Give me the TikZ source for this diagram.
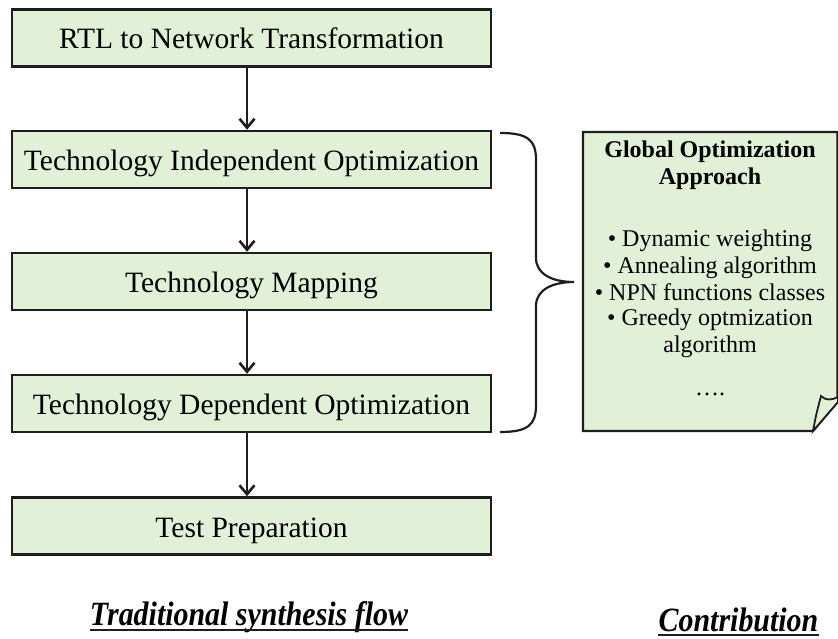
\documentclass[tikz,border=0pt]{standalone}
\usepackage{fontspec}
\usepackage{graphicx}
\setmainfont{Liberation Serif}
\usetikzlibrary{arrows.meta}
\definecolor{boxfill}{RGB}{226,240,216}
\definecolor{ink}{RGB}{30,30,30}
\begin{document}
\begin{tikzpicture}[x=1pt,y=-1pt,
  flowbox/.style={draw=ink, line width=2.4pt, fill=boxfill, minimum width=479pt,
    minimum height=57pt, inner sep=0pt, text height=22pt, text depth=0pt,
    font=\fontsize{29.5}{32}\selectfont},
  arr/.style={draw=ink, line width=2.6pt, -{Straight Barb[length=9pt,width=15pt]}},
  notetitle/.style={anchor=base, inner sep=0pt, font=\bfseries\fontsize{24}{27}\selectfont},
  notetext/.style={anchor=base, inner sep=0pt, font=\fontsize{24}{27}\selectfont},
  caption/.style={anchor=base, inner sep=0pt, font=\bfseries\itshape\fontsize{34}{38}\selectfont},
  uline/.style={draw=ink, line width=2.4pt}
]
\useasboundingbox (0,0) rectangle (838,639);

% flow boxes
\node[flowbox] (rtl) at (251.5,38) {RTL to Network Transformation};
\node[flowbox] (tio) at (251.5,159.5) {Technology Independent Optimization};
\node[flowbox] (tm)  at (251.5,281.5) {Technology Mapping};
\node[flowbox] (tdo) at (251.5,403.5) {Technology Dependent Optimization};
\node[flowbox] (tp)  at (251.5,526) {Test Preparation};

% arrows
\draw[arr] ([xshift=-4.5pt]rtl.south) -- ([xshift=-4.5pt]tio.north);
\draw[arr] ([xshift=-4.5pt]tio.south) -- ([xshift=-4.5pt]tm.north);
\draw[arr] ([xshift=-4.5pt]tm.south) -- ([xshift=-4.5pt]tdo.north);
\draw[arr] ([xshift=-4.5pt]tdo.south) -- ([xshift=-4.5pt]tp.north);

% brace
\coordinate (btop) at (500,133);
\coordinate (btip) at (574,282);
\coordinate (bbot) at (500,432);
\draw[ink, line width=2.2pt] (btop) .. controls (528,133) and (536,140) .. (536,160)
  -- (536,258) .. controls (536,274) and (552,282) .. (btip)
  .. controls (552,282) and (536,290) .. (536,306)
  -- (536,405) .. controls (536,425) and (528,432) .. (bbot);

% note
\path[draw=ink, line width=2.2pt, fill=boxfill] (583,132) -- (837.5,132) -- (837.5,402)
  -- (813,431) -- (583,431) -- cycle;
\path[draw=ink, line width=1.8pt, fill=boxfill] (813,431) .. controls (816,415) .. (821,396)
  .. controls (826,401) and (832,400) .. (838,397) -- (838,402) -- cycle;

\node[notetitle] (nt1) at (710,158) {Global Optimization};
\node[notetitle] (nt2) at (710,185) {Approach};
\node[notetext] (nb1) at (710,247) {• Dynamic weighting};
\node[notetext] (nb2) at (710,273) {• Annealing algorithm};
\node[notetext] (nb3) at (710,300) {• NPN functions classes};
\node[notetext] (nb4) at (710,325) {• Greedy optmization};
\node[notetext] (nb5) at (710,352) {algorithm};
\node[notetext] (nb6) at (710,395) {….};

% captions
\node[caption] (trad) at (249,625) {\scalebox{0.88}[1]{Traditional synthesis flow}};
\draw[uline] ([yshift=-5pt]trad.base west) -- ([yshift=-5pt]trad.base east);
\node[caption] (contr) at (738.5,631) {\scalebox{0.88}[1]{Contribution}};
\draw[uline] ([yshift=-4pt]contr.base west) -- ([yshift=-4pt]contr.base east);
\end{tikzpicture}
\end{document}
